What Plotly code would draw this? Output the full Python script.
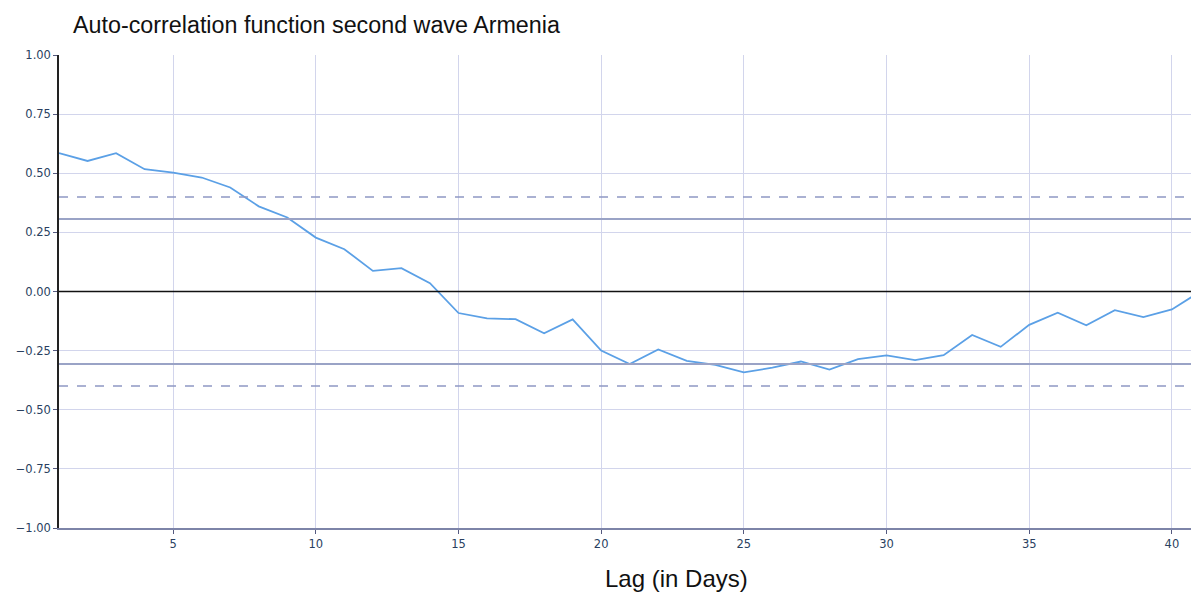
import plotly.graph_objects as go

# Autocorrelation values by lag (days)
lags = list(range(1, 42))
acf = [0.585, 0.552, 0.585, 0.517, 0.503, 0.482, 0.440, 0.360, 0.313, 0.228,
       0.179, 0.087, 0.099, 0.035, -0.091, -0.114, -0.117, -0.177, -0.118, -0.250,
       -0.307, -0.245, -0.293, -0.310, -0.342, -0.322, -0.296, -0.330, -0.286, -0.270,
       -0.290, -0.269, -0.184, -0.234, -0.141, -0.090, -0.143, -0.079, -0.108, -0.076,
       0.000]

# Confidence bands
band_99 = 0.40
band_95 = 0.307

title_text = "Auto-correlation function second wave Armenia"
x_title = "Lag (in Days)"
y_ticks = [-1.0, -0.75, -0.5, -0.25, 0.0, 0.25, 0.5, 0.75, 1.0]
x_ticks = [5, 10, 15, 20, 25, 30, 35, 40]

fig = go.Figure()
fig.add_trace(go.Scatter(x=lags, y=acf, mode="lines",
                         line=dict(color="#5ba0e6", width=1.8),
                         showlegend=False, hoverinfo="x+y"))

for v in (band_95, -band_95):
    fig.add_hline(y=v, line=dict(color="#9aa3c6", width=2))
for v in (band_99, -band_99):
    fig.add_hline(y=v, line=dict(color="#8f98c4", width=1.5, dash="dash"))
fig.add_hline(y=0, line=dict(color="#111111", width=1.6))

fig.update_layout(
    width=1191, height=593,
    margin=dict(l=59, r=0, t=55, b=65),
    paper_bgcolor="white", plot_bgcolor="white",
    title=dict(text=title_text, x=73/1191, xanchor="left", y=1-25/593, yanchor="middle",
               font=dict(family="Liberation Sans, Arial", size=23.3, color="#111111")),
    font=dict(family="DejaVu Sans, Open Sans", size=11.5, color="#2a3f5f"),
    annotations=[dict(text=x_title, xref="paper", yref="paper",
                      x=(676 - 59) / 1132, y=(528 - 578) / 473,
                      xanchor="center", yanchor="middle", showarrow=False,
                      font=dict(family="Liberation Sans, Arial", size=24, color="#111111"))],
)
fig.update_xaxes(range=[1, 40.67], tickvals=x_ticks, ticks="outside", ticklen=4,
                 tickcolor="#555a80",
                 showgrid=True, gridcolor="#d2d5ec", gridwidth=1.3,
                 showline=True, linecolor="#7d84a8", linewidth=2,
                 zeroline=False)
fig.update_yaxes(range=[-1, 1], tickvals=y_ticks, tickformat=".2f", ticks="outside", ticklen=4,
                 tickcolor="#555a80",
                 showgrid=True, gridcolor="#d2d5ec", gridwidth=1.3,
                 showline=True, linecolor="#222222", linewidth=1.5,
                 zeroline=False)

fig.write_html("out.html")
